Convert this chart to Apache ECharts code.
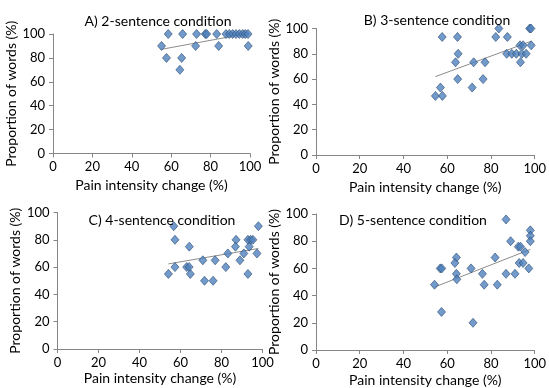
<!DOCTYPE html>
<html><head><meta charset="utf-8">
<script src="https://cdn.jsdelivr.net/npm/echarts@6/dist/echarts.min.js"></script>
<style>html,body{margin:0;padding:0;background:#fff}#c{width:549px;height:388px}</style>
</head><body><div id="c"></div>
<script>
// Panel titles
const titles = ['A) 2-sentence condition','B) 3-sentence condition','C) 4-sentence condition','D) 5-sentence condition'];
const xAxisName = 'Pain intensity change (%)';
const yAxisName = 'Proportion of words (%)';
const tickValues = [0,20,40,60,80,100];

// Panel A: [pain change, proportion]
const dataA = [[58.5,100],[65.8,100],[72.9,100],[77.3,100],[78,100],[83.1,100],[87.8,100],[89.5,100],[91.2,100],[92.9,100],[94.6,100],[96.3,100],[97.6,100],[99,100],
  [55.1,90],[72.4,90],[84.1,90],[99.1,90],[57.6,80],[65.3,80],[64.4,70]];
// Panel B
const dataB = [[57.7,93.3],[64.7,93.3],[82.2,93.3],[87.5,93.3],[83.6,100],[97.7,100],[98.3,100],
  [93.3,86.7],[94.7,86.7],[98.4,86.7],[65.0,80],[87.2,80],[89.5,80],[91.6,80],[94.1,80],[96.1,80],
  [63.8,73.3],[72.1,73.3],[77.3,73.3],[93.5,73.3],[64.8,60],[76.4,60],[56.9,53.3],[71.4,53.3],[54.6,46.7],[57.8,46.7]];
// Panel C
const dataC = [[56.7,90],[98.0,90],[57.3,80],[87.1,80],[92.9,80],[94.2,80],[95.3,80],[64.3,75],[86.8,75],[93.5,75],
  [83.1,70],[90.9,70],[97.3,70],[70.9,65],[76.9,65],[89.0,65],[57.3,60],[63.0,60],[64.2,60],[82.1,60],
  [54.1,55],[64.8,55],[92.9,55],[71.7,50],[75.9,50]];
// Panel D
const dataD = [[86.9,96],[98.0,88],[98.0,84],[98.0,80],[89.0,80],[92.5,76],[93.5,76],[95.6,72],[64.2,68],[81.9,68],
  [63.5,64],[92.9,64],[94.7,64],[56.8,60],[57.5,60],[70.9,60],[97.3,60],[64.2,56],[76.1,56],[86.9,56],[91.0,56],
  [64.4,52],[54.2,48],[76.9,48],[82.9,48],[57.4,28],[71.8,20]];

const panels = [dataA,dataB,dataC,dataD];
const FONT = 'Lato';
const grids = [
  {left:53, top:34, width:197, height:119.5},
  {left:316, top:28.5, width:219, height:126.5},
  {left:57.5, top:212.5, width:205, height:136.5},
  {left:316, top:214, width:219, height:139.5}
];
const titlePos = [[153,9],[432,8],[157,208],[408,208]];
const xNameGap = [25,25,22,23];
const yNameGap = [28,26,28,25];

function trend(d){
  const n=d.length; let sx=0,sy=0,sxx=0,sxy=0,mn=Infinity,mx=-Infinity;
  d.forEach(([x,y])=>{sx+=x;sy+=y;sxx+=x*x;sxy+=x*y;mn=Math.min(mn,x);mx=Math.max(mx,x);});
  const b=(n*sxy-sx*sy)/(n*sxx-sx*sx), a=(sy-b*sx)/n;
  return [[mn,a+b*mn],[mx,a+b*mx]];
}

const axisLine = {lineStyle:{color:'#868686',width:1}};
const option = {
  animation:false,
  textStyle:{fontFamily:FONT},
  title: titles.map((t,i)=>({text:t,left:titlePos[i][0],top:titlePos[i][1],textAlign:'center',
    textStyle:{fontFamily:FONT,fontWeight:'normal',fontSize:14,color:'#000'}})),
  grid: grids,
  xAxis: grids.map((g,i)=>({type:'value',gridIndex:i,min:0,max:100,interval:20,
    name:xAxisName,nameLocation:'middle',nameGap:xNameGap[i],
    nameTextStyle:{fontFamily:FONT,fontSize:14,color:'#000'},
    axisLine:axisLine,axisTick:{show:true,length:4,lineStyle:{color:'#868686'}},
    axisLabel:{fontFamily:FONT,fontSize:13,color:'#000',margin:7},splitLine:{show:false}})),
  yAxis: grids.map((g,i)=>({type:'value',gridIndex:i,min:0,max:100,interval:20,
    name:yAxisName,nameLocation:'middle',nameGap:yNameGap[i],
    nameTextStyle:{fontFamily:FONT,fontSize:14,color:'#000'},
    axisLine:{show:true,...axisLine},axisTick:{show:true,length:4,lineStyle:{color:'#868686'}},
    axisLabel:{fontFamily:FONT,fontSize:13,color:'#000',margin:8},splitLine:{show:false}})),
  series: []
};
panels.forEach((d,i)=>{
  option.series.push({type:'line',xAxisIndex:i,yAxisIndex:i,data:trend(d),showSymbol:false,
    lineStyle:{color:'#8c8c8c',width:1},z:1});
  option.series.push({type:'scatter',xAxisIndex:i,yAxisIndex:i,data:d,symbol:'diamond',symbolSize:[8,9],
    itemStyle:{color:'#4f81bd',borderColor:'#2c4d75',borderWidth:0.8},z:2});
});
echarts.init(document.getElementById('c')).setOption(option);
</script></body></html>
